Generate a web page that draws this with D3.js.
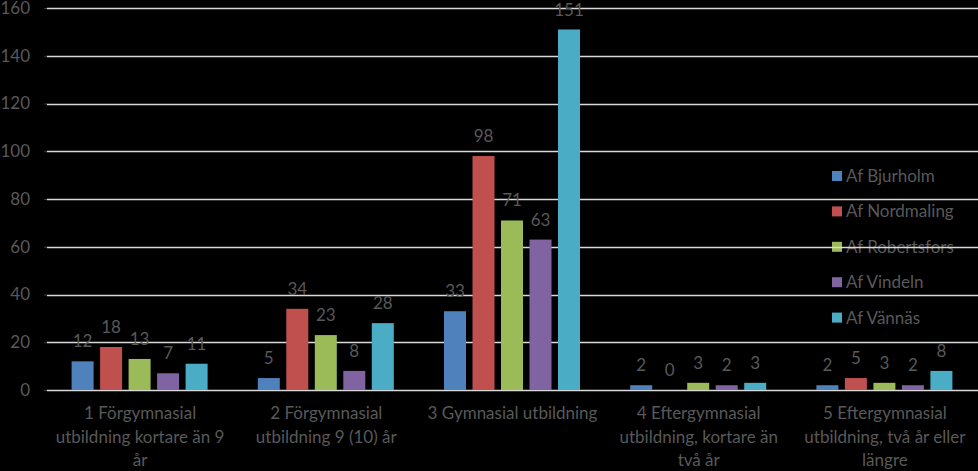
<!DOCTYPE html>
<html><head><meta charset="utf-8">
<script src="https://cdn.jsdelivr.net/npm/d3@7"></script>
<style>html,body{margin:0;padding:0;background:#000;}svg{display:block;}</style>
</head><body>
<svg id="c" width="978" height="471"></svg>
<script>
const categories = [
  ["1 Förgymnasial", "utbildning kortare än 9", "år"],
  ["2 Förgymnasial", "utbildning 9 (10) år"],
  ["3 Gymnasial utbildning"],
  ["4 Eftergymnasial", "utbildning, kortare än", "två år"],
  ["5 Eftergymnasial", "utbildning, två år eller", "längre"]
];
const seriesNames = ["Af Bjurholm", "Af Nordmaling", "Af Robertsfors", "Af Vindeln", "Af Vännäs"];
const bjurholm = [12, 5, 33, 2, 2];
const nordmaling = [18, 34, 98, 0, 5];
const robertsfors = [13, 23, 71, 3, 3];
const vindeln = [7, 8, 63, 2, 2];
const vannas = [11, 28, 151, 3, 8];
const yTicks = [0, 20, 40, 60, 80, 100, 120, 140, 160];
const colors = ["#4F81BD", "#C0504D", "#9BBB59", "#8064A2", "#4BACC6"];

const series = [bjurholm, nordmaling, robertsfors, vindeln, vannas];
const svg = d3.select("#c");
const font = "Lato, 'Open Sans', sans-serif";
const fs = 17;
const textColor = "#595959";
const pLeft = 47, pRight = 978, pTop = 8, pBottom = 390;

const y = d3.scaleLinear().domain([0, 160]).range([pBottom, pTop]);
const x0 = d3.scaleBand().domain(d3.range(categories.length)).range([pLeft, pRight]).paddingInner(0).paddingOuter(0);
const x1 = d3.scaleBand().domain(d3.range(series.length)).range([24.6, 160.6]).paddingInner(0.228).paddingOuter(0);

// legend (drawn below gridlines)
const lg = svg.append("g");
seriesNames.forEach((n, i) => {
  const cy = 176 + i * 35.4;
  lg.append("rect").attr("x", 832).attr("y", cy - 5).attr("width", 10).attr("height", 10).attr("fill", colors[i]);
  lg.append("text").attr("x", 846).attr("y", cy).attr("dy", "0.35em")
    .attr("font-family", font).attr("font-size", fs).attr("fill", textColor).text(n);
});

// gridlines
svg.append("g").selectAll("line").data(yTicks).join("line")
  .attr("x1", pLeft).attr("x2", pRight).attr("y1", d => Math.round(y(d)) + 0.5).attr("y2", d => Math.round(y(d)) + 0.5)
  .attr("stroke", "#D9D9D9").attr("stroke-width", 1.3);

// y axis labels
const yAxis = d3.axisLeft(y).tickValues(yTicks).tickSize(3).tickPadding(14);
const ya = svg.append("g").attr("transform", `translate(${pLeft},0)`).call(yAxis);
ya.select(".domain").remove();
ya.selectAll(".tick line").attr("stroke", "#404040");
ya.selectAll("text").attr("font-family", font).attr("font-size", fs).attr("fill", textColor);

// bars
categories.forEach((c, ci) => {
  series.forEach((s, si) => {
    const bx = x0(ci) + x1(si);
    svg.append("rect").attr("x", bx).attr("y", y(s[ci])).attr("width", x1.bandwidth())
      .attr("height", pBottom - y(s[ci])).attr("fill", colors[si]);
    svg.append("text").attr("x", bx + x1.bandwidth() / 2).attr("y", y(s[ci]) - 14)
      .attr("text-anchor", "middle").attr("font-family", font).attr("font-size", fs)
      .attr("fill", textColor).text(s[ci]);
  });
});

// x axis category labels
categories.forEach((lines, ci) => {
  const cx = x0(ci) + x0.bandwidth() / 2;
  const t = svg.append("text").attr("text-anchor", "middle").attr("font-family", font)
    .attr("font-size", fs).attr("fill", textColor);
  lines.forEach((l, li) => {
    t.append("tspan").attr("x", cx).attr("y", 419 + li * 23.5).text(l);
  });
});
</script>
</body></html>
